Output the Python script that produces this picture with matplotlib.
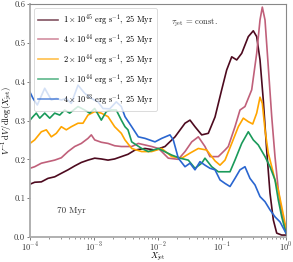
import numpy as np
import matplotlib
matplotlib.use("Agg")
import matplotlib.pyplot as plt

plt.rcParams['font.family'] = ['cmr10', 'DejaVu Serif']
plt.rcParams['mathtext.fontset'] = 'cm'
plt.rcParams['axes.formatter.use_mathtext'] = True
plt.rcParams['axes.unicode_minus'] = False

# log10(X_jet) and V^-1 dV/dlog(X_jet)
lx_1e45 = [-4.0, -3.927, -3.823, -3.719, -3.614, -3.511, -3.406, -3.302, -3.198, -3.094,
           -2.989, -2.886, -2.781, -2.677, -2.573, -2.469, -2.359, -2.203, -2.047, -1.891,
           -1.734, -1.578, -1.5, -1.422, -1.317, -1.214, -1.109, -1.005, -0.927, -0.848,
           -0.77, -0.692, -0.589, -0.511, -0.458, -0.406, -0.355, -0.302, -0.25, -0.198,
           -0.145, -0.067, 0.0]
v_1e45 = [0.136, 0.141, 0.142, 0.151, 0.155, 0.164, 0.173, 0.183, 0.192, 0.198,
          0.203, 0.201, 0.198, 0.201, 0.207, 0.213, 0.224, 0.228, 0.224, 0.233,
          0.258, 0.293, 0.301, 0.284, 0.263, 0.267, 0.309, 0.379, 0.430, 0.464,
          0.456, 0.473, 0.516, 0.531, 0.516, 0.456, 0.353, 0.224, 0.113, 0.044,
          0.010, 0.005, 0.005]

lx_4e44 = [-4.0, -3.927, -3.823, -3.719, -3.614, -3.511, -3.406, -3.302, -3.198, -3.094,
           -3.042, -2.989, -2.886, -2.781, -2.677, -2.573, -2.469, -2.411, -2.308, -2.203,
           -2.098, -1.995, -1.942, -1.839, -1.683, -1.578, -1.473, -1.37, -1.266, -1.188,
           -1.058, -0.953, -0.902, -0.797, -0.719, -0.641, -0.536, -0.458, -0.406, -0.37,
           -0.328, -0.277, -0.223, -0.172, -0.12, -0.067, 0.0]
v_4e44 = [0.177, 0.181, 0.190, 0.194, 0.198, 0.204, 0.220, 0.233, 0.241, 0.254,
          0.263, 0.250, 0.244, 0.241, 0.235, 0.233, 0.233, 0.233, 0.241, 0.237,
          0.233, 0.228, 0.220, 0.203, 0.200, 0.220, 0.245, 0.258, 0.233, 0.207,
          0.207, 0.224, 0.233, 0.284, 0.327, 0.336, 0.379, 0.473, 0.559, 0.592,
          0.559, 0.439, 0.310, 0.207, 0.121, 0.061, 0.018]

lx_2e44 = [-4.0, -3.927, -3.823, -3.745, -3.667, -3.589, -3.511, -3.433, -3.355, -3.25,
           -3.172, -3.094, -2.989, -2.886, -2.781, -2.677, -2.573, -2.516, -2.411, -2.255,
           -2.098, -1.942, -1.786, -1.63, -1.5, -1.37, -1.239, -1.109, -1.031, -0.953,
           -0.848, -0.745, -0.667, -0.589, -0.52, -0.458, -0.406, -0.37, -0.328, -0.277,
           -0.223, -0.172, -0.12, -0.067, 0.0]
v_2e44 = [0.241, 0.250, 0.271, 0.276, 0.258, 0.267, 0.284, 0.276, 0.284, 0.293,
          0.293, 0.314, 0.323, 0.319, 0.310, 0.284, 0.267, 0.250, 0.228, 0.220,
          0.220, 0.228, 0.207, 0.203, 0.216, 0.228, 0.224, 0.196, 0.185, 0.198,
          0.241, 0.284, 0.306, 0.297, 0.291, 0.319, 0.360, 0.344, 0.276, 0.216,
          0.181, 0.147, 0.121, 0.078, 0.023]

lx_1e44 = [-4.0, -3.953, -3.902, -3.848, -3.77, -3.692, -3.614, -3.536, -3.458, -3.38,
           -3.25, -3.145, -3.067, -2.989, -2.886, -2.808, -2.73, -2.652, -2.573, -2.516,
           -2.469, -2.411, -2.255, -2.152, -1.995, -1.786, -1.656, -1.527, -1.422, -1.317,
           -1.266, -1.161, -1.058, -0.953, -0.875, -0.797, -0.692, -0.589, -0.511, -0.433,
           -0.328, -0.25, -0.172, -0.12, -0.067, 0.0]
v_1e44 = [0.301, 0.310, 0.319, 0.306, 0.319, 0.306, 0.319, 0.314, 0.327, 0.319,
          0.336, 0.327, 0.319, 0.331, 0.301, 0.323, 0.327, 0.327, 0.301, 0.284,
          0.276, 0.245, 0.228, 0.220, 0.228, 0.211, 0.203, 0.198, 0.177, 0.190,
          0.203, 0.181, 0.168, 0.168, 0.168, 0.198, 0.241, 0.271, 0.250, 0.237,
          0.207, 0.181, 0.147, 0.095, 0.052, 0.010]

lx_4e43 = [-4.0, -3.953, -3.886, -3.77, -3.667, -3.589, -3.511, -3.433, -3.355, -3.25,
           -3.145, -3.042, -2.938, -2.859, -2.755, -2.652, -2.573, -2.516, -2.411, -2.308,
           -2.203, -2.047, -1.942, -1.813, -1.761, -1.683, -1.578, -1.5, -1.422, -1.344,
           -1.266, -1.188, -1.109, -1.031, -0.953, -0.875, -0.797, -0.719, -0.641, -0.563,
           -0.484, -0.406, -0.328, -0.25, -0.172, -0.094, 0.0]
v_4e43 = [0.373, 0.357, 0.340, 0.383, 0.353, 0.357, 0.353, 0.357, 0.344, 0.391,
          0.370, 0.357, 0.348, 0.331, 0.330, 0.348, 0.336, 0.310, 0.284, 0.258,
          0.254, 0.245, 0.254, 0.263, 0.250, 0.203, 0.181, 0.190, 0.173, 0.194,
          0.185, 0.177, 0.173, 0.147, 0.138, 0.130, 0.151, 0.173, 0.181, 0.151,
          0.134, 0.104, 0.091, 0.070, 0.052, 0.039, 0.010]

series = [
    (lx_1e45, v_1e45, r'$1\times10^{45}$ erg s$^{-1}$, 25 Myr', '#4d0a1f'),
    (lx_4e44, v_4e44, r'$4\times10^{44}$ erg s$^{-1}$, 25 Myr', '#c0607a'),
    (lx_2e44, v_2e44, r'$2\times10^{44}$ erg s$^{-1}$, 25 Myr', '#ffa500'),
    (lx_1e44, v_1e44, r'$1\times10^{44}$ erg s$^{-1}$, 25 Myr', '#1a9a5a'),
    (lx_4e43, v_4e43, r'$4\times10^{43}$ erg s$^{-1}$, 25 Myr', '#2a66d0'),
]

fig = plt.figure(figsize=(2.93, 2.62), dpi=100)
ax = fig.add_axes([0.1024, 0.0954, 0.8737, 0.8893])

for lx, v, lab, col in series:
    ax.plot(10 ** np.array(lx), v, color=col, lw=1.2, label=lab)

ax.set_xscale('log')
ax.set_xlim(1e-4, 1)
ax.set_ylim(0, 0.6)
ax.set_yticks([0, 0.1, 0.2, 0.3, 0.4, 0.5, 0.6])
ax.set_yticklabels(['0.0', '0.1', '0.2', '0.3', '0.4', '0.5', '0.6'])

for s in ['left', 'bottom']:
    ax.spines[s].set_color('#aaaaaa')
    ax.spines[s].set_linewidth(1.3)
for s in ['top', 'right']:
    ax.spines[s].set_color('#888888')
    ax.spines[s].set_linewidth(0.8)

ax.tick_params(axis='both', which='major', labelsize=6.2, length=2.5, width=0.6,
               color='#666666', labelcolor='#333333', pad=1.0)
ax.tick_params(axis='x', which='major', labelsize=6.0, pad=0.3)
ax.tick_params(axis='both', which='minor', length=1.5, width=0.5, color='#666666')

ax.set_xlabel(r'$X_{\rm jet}$', fontsize=6.1)
ax.set_ylabel(r'$V^{-1}\,{\rm d}V/{\rm d}\log(X_{\rm jet})$', fontsize=6.3)
ax.xaxis.set_label_coords(0.5, -0.062)
ax.yaxis.set_label_coords(-0.058, 0.5)

leg = ax.legend(loc='upper left', fontsize=6.0, frameon=True, fancybox=True,
                handlelength=2.3, labelspacing=0.6, borderpad=0.5,
                handletextpad=0.6, bbox_to_anchor=(0.0, 1.0))
leg.get_frame().set_edgecolor('#cccccc')
leg.get_frame().set_linewidth(0.6)
for h in leg.get_lines():
    h.set_alpha(0.7)

ax.text(0.55, 0.91, r'$\tau_{\rm jet}$ = const.', transform=ax.transAxes,
        fontsize=6.2, color='#333333')
ax.text(0.105, 0.105, '70 Myr', transform=ax.transAxes, fontsize=6.5, color='#333333')

fig.savefig('out.png', dpi=100)
